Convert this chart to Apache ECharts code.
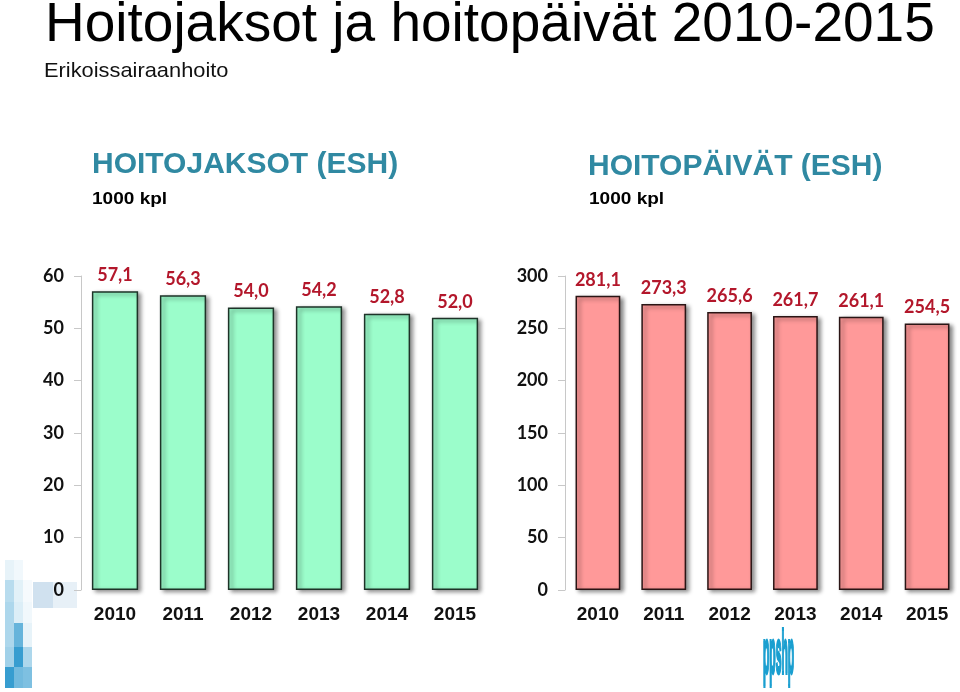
<!DOCTYPE html>
<html>
<head>
<meta charset="utf-8">
<script src="https://cdn.jsdelivr.net/npm/echarts@6/dist/echarts.min.js"></script>
<style>html,body{margin:0;padding:0;background:#fff}#c{width:960px;height:692px}</style>
</head>
<body>
<div id="c"></div>
<script>
var years = ['2010', '2011', '2012', '2013', '2014', '2015'];
var hoitojaksot = [57.1, 56.3, 54.0, 54.2, 52.8, 52.0];
var hoitopaivat = [281.1, 273.3, 265.6, 261.7, 261.1, 254.5];
var leftTicks = [0, 10, 20, 30, 40, 50, 60];
var rightTicks = [0, 50, 100, 150, 200, 250, 300];

var chart = echarts.init(document.getElementById('c'), null, {renderer: 'canvas'});

function fmt(v) { return v.toFixed(1).replace('.', ','); }

var labelStyle = {
  show: true, position: 'top', distance: 7,
  color: '#b3172b', fontFamily: 'Lato', fontWeight: 'bold', fontSize: 18,
  formatter: function (p) { return fmt(p.value); }
};

function yAxis(idx, ticks) {
  return {
    type: 'value', gridIndex: idx, min: ticks[0], max: ticks[ticks.length - 1],
    interval: ticks[1] - ticks[0],
    axisLine: {show: true, lineStyle: {color: '#c8c8c8', width: 1}},
    axisTick: {show: true, length: 7, lineStyle: {color: '#c8c8c8'}},
    splitLine: {show: false},
    axisLabel: {color: '#111', fontFamily: 'Lato', fontWeight: 'bold', fontSize: 18, margin: 17}
  };
}
function xAxis(idx) {
  return {
    type: 'category', gridIndex: idx, data: years,
    axisLine: {show: false}, axisTick: {show: false},
    axisLabel: {color: '#111', fontFamily: 'Liberation Sans', fontWeight: 'bold', fontSize: 19, margin: 15}
  };
}

// decorative squares at the bottom-left
var deco = [];
var cols = [5, 14, 23];
var rows = [560, 580, 602, 623, 647, 667];
var alphas = [
  [0.10, 0.06, 0.0],
  [0.30, 0.12, 0.04],
  [0.35, 0.15, 0.06],
  [0.35, 0.65, 0.10],
  [0.40, 0.85, 0.35],
  [0.85, 0.60, 0.55]
];
for (var r = 0; r < rows.length; r++) {
  for (var c = 0; c < cols.length; c++) {
    var h = (r + 1 < rows.length ? rows[r + 1] : 688) - rows[r];
    deco.push({type: 'rect', shape: {x: cols[c], y: rows[r], width: 9, height: h},
      style: {fill: 'rgba(20,140,200,' + alphas[r][c] + ')'}, silent: true, z: -1});
  }
}
deco.push({type: 'rect', shape: {x: 33, y: 582, width: 20, height: 26}, style: {fill: 'rgba(120,170,210,0.35)'}, silent: true, z: -1});
deco.push({type: 'rect', shape: {x: 53, y: 582, width: 24, height: 26}, style: {fill: 'rgba(120,170,210,0.18)'}, silent: true, z: -1});

var texts = [
  {type: 'text', x: 45, y: -2, style: {text: 'Hoitojaksot ja hoitopäivät 2010-2015', fill: '#000', font: 'normal 55px "Liberation Sans"'}},
  {type: 'text', x: 44, y: 61, scaleX: 1.04, style: {text: 'Erikoissairaanhoito', fill: '#111', font: 'normal 21px "Liberation Sans"'}},
  {type: 'text', x: 92, y: 150, style: {text: 'HOITOJAKSOT (ESH)', fill: '#3089a2', font: 'bold 30px "Liberation Sans"'}},
  {type: 'text', x: 92, y: 191, scaleX: 1.12, style: {text: '1000 kpl', fill: '#000', font: 'bold 17px "Liberation Sans"'}},
  {type: 'text', x: 588, y: 152, style: {text: 'HOITOPÄIVÄT (ESH)', fill: '#3089a2', font: 'bold 30px "Liberation Sans"'}},
  {type: 'text', x: 589, y: 191, scaleX: 1.12, style: {text: '1000 kpl', fill: '#000', font: 'bold 17px "Liberation Sans"'}},
  {type: 'text', x: 763, y: 626, scaleX: 0.40, scaleY: 2.35, style: {text: 'ppshp', fill: '#1a9fd0', stroke: '#1a9fd0', lineWidth: 1.6, font: 'bold 26px "Liberation Sans"'}}
];

chart.setOption({
  backgroundColor: '#fff',
  animation: false,
  graphic: deco.concat(texts),
  grid: [
    {left: 81, top: 276, width: 408, height: 314, containLabel: false},
    {left: 565, top: 276, width: 399, height: 314, containLabel: false}
  ],
  xAxis: [xAxis(0), xAxis(1)],
  yAxis: [yAxis(0, leftTicks), yAxis(1, rightTicks)],
  series: [
    {
      type: 'bar', xAxisIndex: 0, yAxisIndex: 0, data: hoitojaksot, barCategoryGap: '32%',
      itemStyle: {color: '#9bfdcb', borderColor: '#1e3328', borderWidth: 1.5,
        shadowColor: 'rgba(0,0,0,0.45)', shadowBlur: 4, shadowOffsetX: 3, shadowOffsetY: 2},
      label: labelStyle
    },
    {
      type: 'bar', xAxisIndex: 1, yAxisIndex: 1, data: hoitopaivat, barCategoryGap: '32%',
      itemStyle: {color: '#ff9999', borderColor: '#2a1515', borderWidth: 1.5,
        shadowColor: 'rgba(0,0,0,0.45)', shadowBlur: 4, shadowOffsetX: 3, shadowOffsetY: 2},
      label: labelStyle
    }
  ]
});
</script>
</body>
</html>
